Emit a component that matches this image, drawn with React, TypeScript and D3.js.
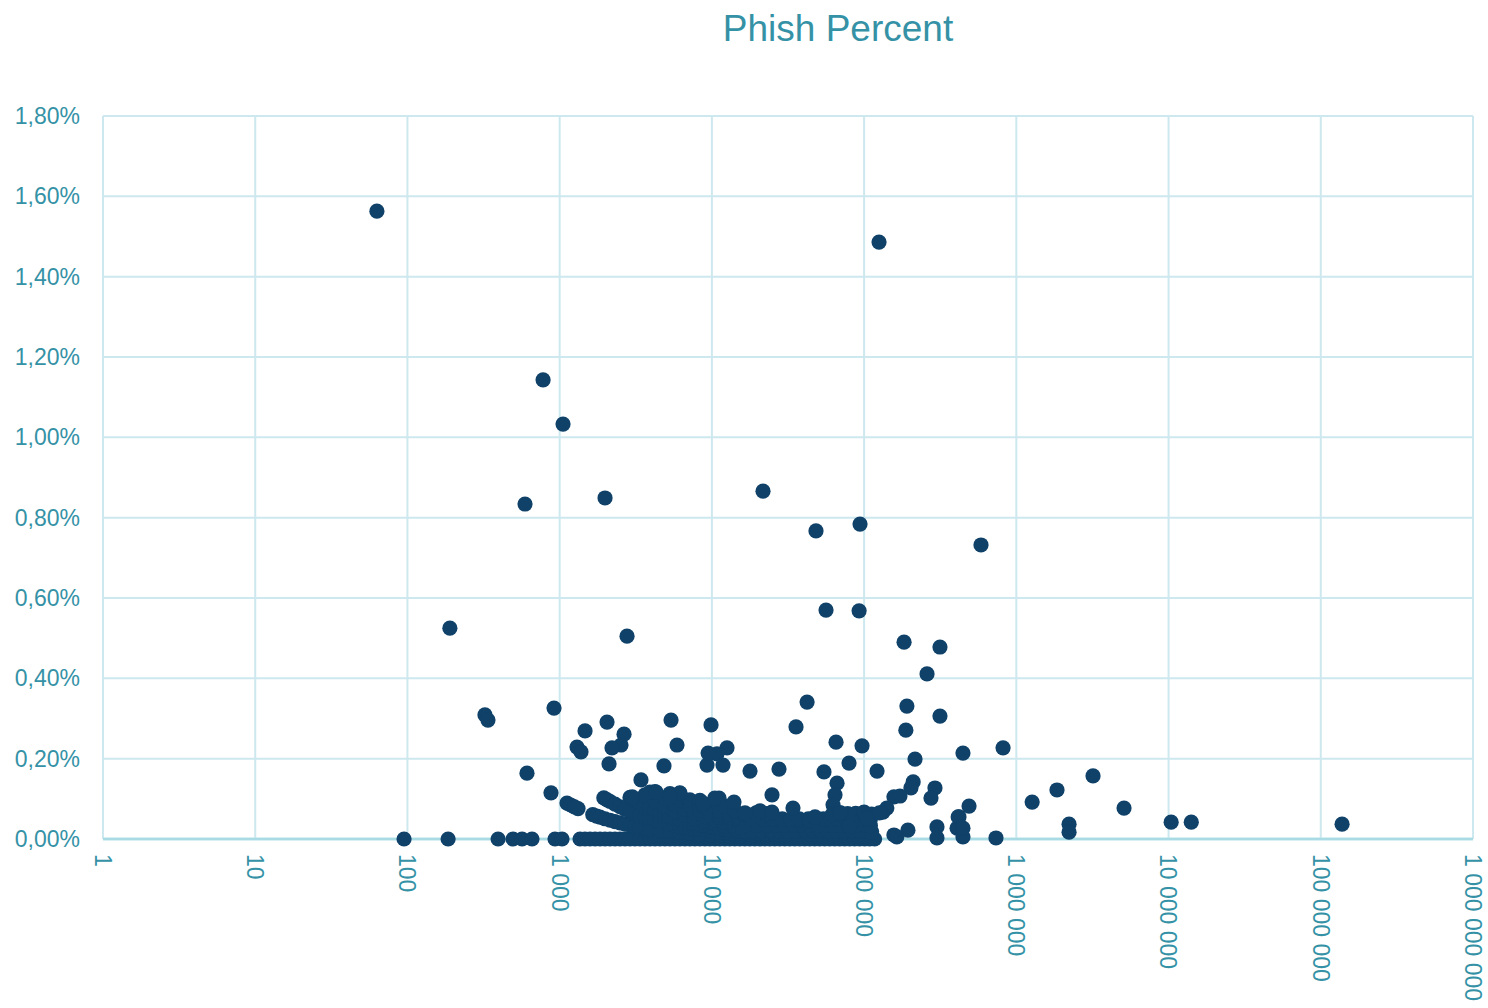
import React from "react";
import * as d3 from "d3";

// ---- Data (total count, phish percent) ----
const titleText = "Phish Percent";
const xTicks = [1, 10, 100, 1000, 10000, 100000, 1000000, 10000000, 100000000, 1000000000];
const yTicks = [0, 0.2, 0.4, 0.6, 0.8, 1.0, 1.2, 1.4, 1.6, 1.8];

const outliers: [number, number][] = [
  [63, 1.563], [125300, 1.486], [778, 1.143], [1052, 1.033], [592, 0.834], [1986, 0.849],
  [21670, 0.866], [48300, 0.767], [94000, 0.784], [586000, 0.732], [56200, 0.57], [92700, 0.568],
  [190, 0.525], [2770, 0.505], [183000, 0.49], [315000, 0.478], [259000, 0.411], [42200, 0.341],
  [918, 0.326], [191000, 0.331], [323, 0.309], [338, 0.296], [315000, 0.306], [2047, 0.291],
  [5390, 0.296], [9870, 0.284], [35700, 0.279], [1468, 0.269], [188000, 0.271], [2648, 0.261],
  [1300, 0.229], [1381, 0.217], [2529, 0.234], [2207, 0.227], [5900, 0.234], [65400, 0.241],
  [96900, 0.232], [12570, 0.227], [9290, 0.184], [10800, 0.212], [11830, 0.184], [9440, 0.214],
  [17800, 0.169], [27600, 0.174], [79600, 0.189], [54500, 0.167], [121600, 0.169], [216000, 0.199],
  [446000, 0.214], [818000, 0.227], [210000, 0.142], [203000, 0.127], [292000, 0.127], [275000, 0.102],
  [489000, 0.082], [420000, 0.055], [408000, 0.027], [446000, 0.005], [301000, 0.03], [301000, 0.0025],
  [194000, 0.022], [164000, 0.005], [157000, 0.01], [735000, 0.0025], [157000, 0.105], [172000, 0.107],
  [133000, 0.067], [141000, 0.077], [66400, 0.139], [64400, 0.11], [62500, 0.085], [61500, 0.06],
  [2110, 0.187], [4845, 0.182], [610, 0.164], [877, 0.115], [3421, 0.147],
  [1270000, 0.092], [1850000, 0.122], [3190000, 0.157], [2220000, 0.037], [2220000, 0.017],
  [5100000, 0.077], [10400000, 0.042], [14100000, 0.042], [138000000, 0.037],
  [8750, 0.085], [11140, 0.102], [13970, 0.092], [24830, 0.11], [34100, 0.077],
  [3918, 0.117], [4300, 0.117], [6160, 0.115], [5300, 0.105], [8700, 0.09], [10450, 0.102], [3000, 0.105],
  [126000, 0.065], [100000, 0.067], [104000, 0.052], [83000, 0.042], [80000, 0.032],
  [415000, 0.055], [446000, 0.027], [69000, 0.065], [20700, 0.07], [24800, 0.067], [44100, 0.047], [47600, 0.055],
];

const zeroRow: number[] = [
  95, 185, 394, 494, 566, 658, 932, 1036, 1361, 1467, 1583, 1708, 1842, 1986, 2142, 2310, 2490, 2686,
  2897, 3124, 3369, 3633, 3918, 4226, 4557, 4915, 5300, 5716, 6164, 6648, 7169, 7732, 8338, 8992, 9698,
  10458, 11279, 12163, 13117, 14146, 15255, 16452, 17742, 19134, 20635, 22254, 24000, 25880, 27910,
  30100, 32462, 35009, 37756, 40718, 43913, 47358, 51073, 55081, 59402, 64063, 69089, 74510, 80355,
  86660, 93459, 100792, 108700, 117228,
];

const oneHit: [number, number][] = [
  [1117, 0.0895], [1180, 0.0847], [1250, 0.08], [1320, 0.0758], [1650, 0.0606], [1750, 0.0571],
  [1842, 0.0543], [1986, 0.0504], [2142, 0.0467], [2310, 0.0433], [2490, 0.0402], [2686, 0.0372],
  [2897, 0.0345], [3124, 0.032], [3369, 0.0297], [3633, 0.0275], [3918, 0.0255], [4557, 0.0219],
  [5300, 0.0189], [6164, 0.0162], [7169, 0.0139], [8338, 0.012], [9698, 0.0103], [11279, 0.0089],
  [13117, 0.0076], [15255, 0.0066], [17742, 0.0056], [20635, 0.0048],
];

const twoHits: [number, number][] = [
  [1950, 0.1026], [2050, 0.0976], [2142, 0.0934], [2310, 0.0866], [2490, 0.0803], [2686, 0.0745],
  [2897, 0.069], [3124, 0.064], [3369, 0.0594], [3633, 0.0551], [3918, 0.051], [4226, 0.0473],
  [4557, 0.0439], [4915, 0.0407], [5300, 0.0377], [5716, 0.035], [6164, 0.0324], [6648, 0.0301],
  [7169, 0.0279], [7732, 0.0259], [8338, 0.024], [8992, 0.0222], [9698, 0.0206], [10458, 0.0191],
  [11279, 0.0177], [12163, 0.0164], [13117, 0.0152], [14146, 0.0141], [15255, 0.0131], [16452, 0.0122],
  [17742, 0.0113], [19134, 0.0105], [20635, 0.0097], [22254, 0.009],
];

const threeHits: [number, number][] = [
  [2897, 0.1036], [3124, 0.096], [3369, 0.089], [3633, 0.0826], [3918, 0.0766], [4226, 0.071],
  [4557, 0.0658], [4915, 0.061], [5300, 0.0566], [5716, 0.0525], [6164, 0.0487], [6648, 0.0451],
  [7169, 0.0418], [7732, 0.0388], [8338, 0.036], [8992, 0.0334], [9698, 0.0309], [10458, 0.0287],
  [11279, 0.0266], [12163, 0.0247], [13117, 0.0229], [14146, 0.0212], [15255, 0.0197], [16452, 0.0182],
  [17742, 0.0169], [19134, 0.0157], [20635, 0.0145], [22254, 0.0135], [24000, 0.0125], [25880, 0.0116],
  [27910, 0.0107], [30100, 0.01],
];

const fewHits: [number, number][] = [
  [3633, 0.11], [4226, 0.0947], [4915, 0.0814], [5716, 0.07], [6648, 0.0602], [7732, 0.0517],
  [8992, 0.0445], [10458, 0.0382], [12163, 0.0329], [14146, 0.0283],
  [4226, 0.118], [4915, 0.1017], [5716, 0.0875], [6648, 0.0752], [7732, 0.0647], [8992, 0.0556],
  [10458, 0.0478], [12163, 0.0411], [14146, 0.0353], [16452, 0.0304],
  [5300, 0.113], [6164, 0.0973], [7169, 0.0837], [8338, 0.072], [9698, 0.0619], [11279, 0.0532],
  [13117, 0.0457], [15255, 0.0393],
  [6164, 0.1136], [7169, 0.0976], [8338, 0.084], [9698, 0.0722], [11279, 0.062], [13117, 0.0534],
  [15255, 0.0459], [17742, 0.0395],
  [8338, 0.096], [9698, 0.0825], [11279, 0.0709], [13117, 0.061], [15255, 0.0524],
  [10458, 0.0956], [12163, 0.0822], [14146, 0.0707], [16452, 0.0608], [19134, 0.0523],
];

const bandLow: [number, number][] = [
  [16000, 0.02], [18500, 0.02], [21000, 0.02], [24500, 0.02], [28000, 0.02], [31500, 0.02], [36000, 0.02],
  [41000, 0.02], [46000, 0.02], [52000, 0.02], [58000, 0.02], [66000, 0.02], [74000, 0.02], [83000, 0.02],
  [93000, 0.02], [105000, 0.02], [112000, 0.018],
];
const bandMid: [number, number][] = [
  [17000, 0.035], [20000, 0.035], [23000, 0.035], [26500, 0.035], [30000, 0.035], [34500, 0.035],
  [39000, 0.035], [44000, 0.035], [50000, 0.035], [56000, 0.035], [63000, 0.035], [71000, 0.035],
  [80000, 0.035], [90000, 0.035], [101000, 0.035], [110000, 0.033],
];
const bandHigh: [number, number][] = [
  [18000, 0.05], [21500, 0.05], [25000, 0.05], [29000, 0.05], [33000, 0.05], [37500, 0.05], [43000, 0.05],
  [54000, 0.05], [60000, 0.05], [68000, 0.05], [77000, 0.05], [86000, 0.05], [97000, 0.05], [110000, 0.05],
  [16500, 0.065], [19500, 0.065], [23000, 0.063], [70000, 0.065], [78000, 0.063], [88000, 0.064],
  [99000, 0.065], [112000, 0.062],
];

// ---- Layout ----
const W = 1488;
const H = 1008;
const left = 103;
const right = 1473;
const top = 116;
const bottom = 839;

const TEXT = "#3592a6";
const GRID = "#cde8ee";
const AXIS = "#a9dbe5";
const DOT = "#0f4169";
const FONT = "'Liberation Sans', Arial, Helvetica, sans-serif";

const locale = d3.formatLocale({ decimal: ",", thousands: "\u00a0", grouping: [3], currency: ["", ""] });
const fmtX = locale.format(",d");
const fmtY = locale.format(".2f");

export default function App() {
  const x = d3.scaleLog().domain([1, 1e9]).range([left, right]);
  const y = d3.scaleLinear().domain([0, 1.8]).range([bottom, top]);

  const points: [number, number][] = [
    ...zeroRow.map((v) => [v, 0] as [number, number]),
    ...oneHit,
    ...twoHits,
    ...threeHits,
    ...fewHits,
    ...bandLow,
    ...bandMid,
    ...bandHigh,
    ...outliers,
  ];

  return (
    <svg width={W} height={H} style={{ position: "absolute", left: 0, top: 0, background: "#fff" }}>
      <text x={838} y={41} textAnchor="middle" fill={TEXT} fontFamily={FONT} fontSize={37}>
        {titleText}
      </text>
      {yTicks.map((t) => (
        <line key={"gy" + t} x1={left} x2={right} y1={y(t)} y2={y(t)} stroke={t === 0 ? AXIS : GRID} strokeWidth={t === 0 ? 2.5 : 2} />
      ))}
      {xTicks.map((t) => (
        <line key={"gx" + t} x1={x(t)} x2={x(t)} y1={top} y2={bottom} stroke={GRID} strokeWidth={2} />
      ))}
      <line x1={left} x2={right} y1={bottom} y2={bottom} stroke={AXIS} strokeWidth={2.5} />
      {yTicks.map((t) => (
        <text key={"ly" + t} x={80} y={y(t)} dy="0.35em" textAnchor="end" fill={TEXT} fontFamily={FONT} fontSize={23}>
          {fmtY(t) + "%"}
        </text>
      ))}
      {xTicks.map((t) => (
        <text
          key={"lx" + t}
          transform={`translate(${x(t)},${bottom + 15}) rotate(90)`}
          dy="0.35em"
          textAnchor="start"
          fill={TEXT}
          fontFamily={FONT}
          fontSize={23}
        >
          {fmtX(t)}
        </text>
      ))}
      {points.map((p, i) => (
        <circle key={i} cx={x(p[0])} cy={y(p[1])} r={7.6} fill={DOT} />
      ))}
    </svg>
  );
}
